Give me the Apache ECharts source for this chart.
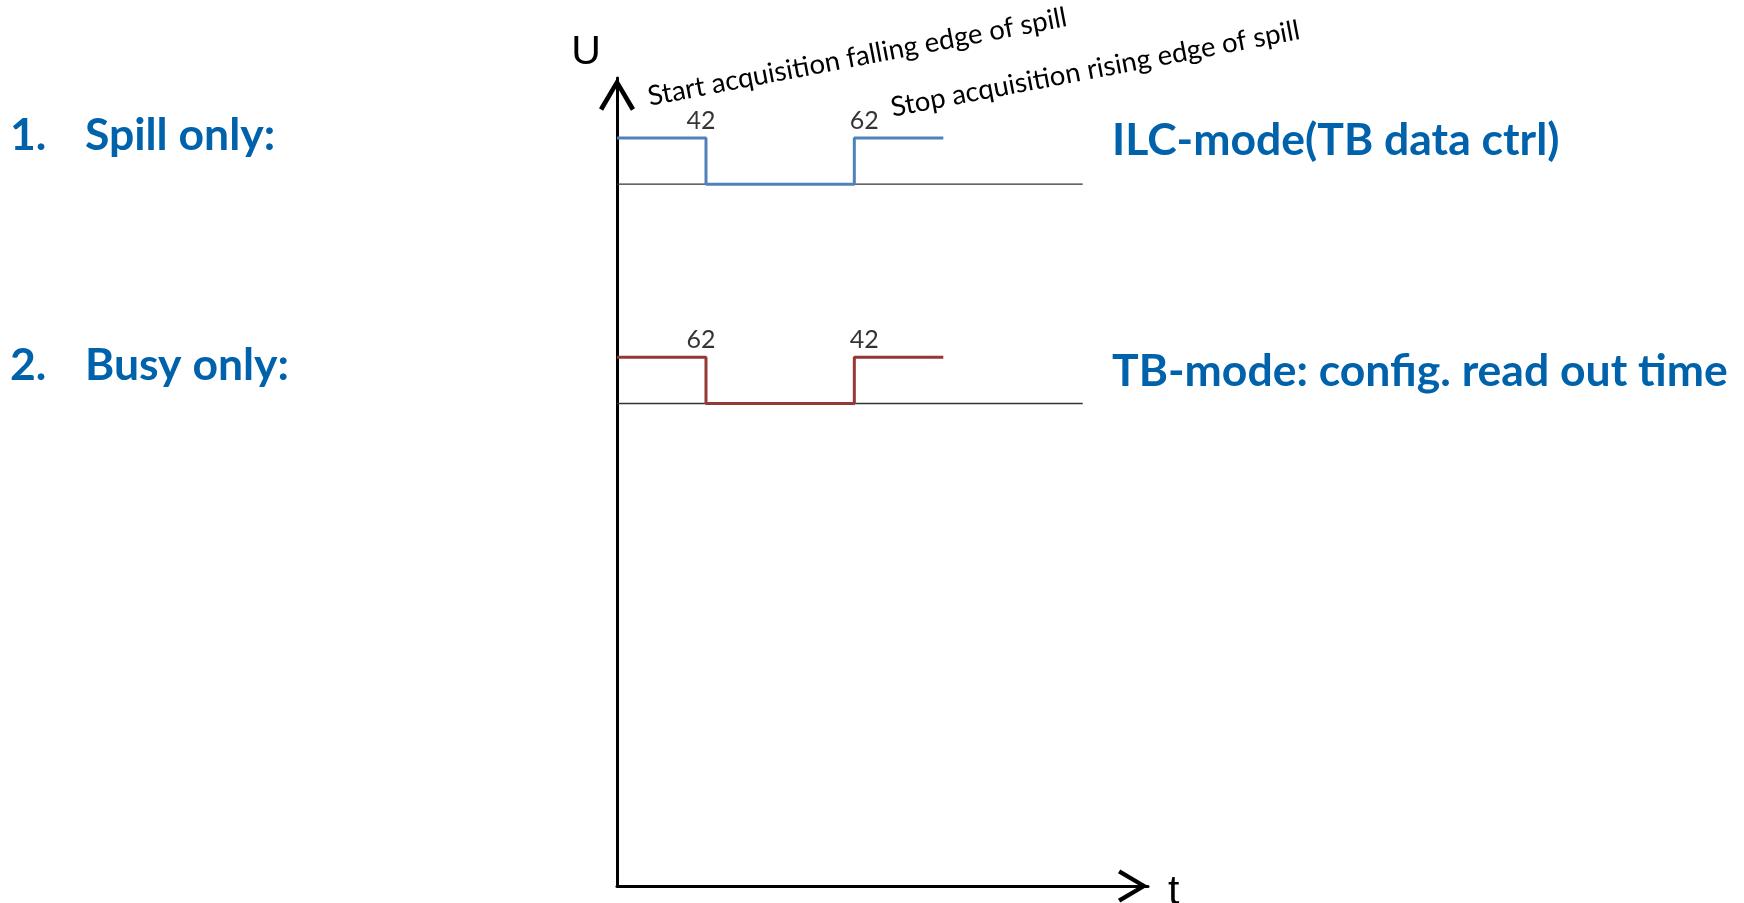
<!DOCTYPE html>
<html><head><meta charset="utf-8">
<script src="https://cdn.jsdelivr.net/npm/echarts@6/dist/echarts.min.js"></script>
<style>html,body{margin:0;padding:0;background:#fff}#c{width:1744px;height:903px}</style>
</head><body><div id="c"></div>
<script>
// ---- data ----
const edgeTimes = [0, 3, 8, 11];
const spillLevels = [16.2, 15.2, 16.2, 16.2];
const busyLevels = [11.45, 10.45, 11.45, 11.45];
const spillBase = 15.2;
const busyBase = 10.45;
const baselineEnd = 15.7;
const labelTimes = [3, 8];
const spillEdgeLabels = ['42', '62'];
const busyEdgeLabels = ['62', '42'];
const xMax = 17.9;
const yMax = 17.5;
const rowNumbers = ['1.', '2.'];
const rowTitles = ['Spill only:', 'Busy only:'];
const modeTitles = ['ILC-mode(TB data ctrl)', 'TB-mode: config. read out time'];
const annotations = ['Start acquisition falling edge of spill', 'Stop acquisition rising edge of spill'];
const axisNames = ['t', 'U'];

// ---- build ----
const zip = (a, b) => a.map((v, i) => [v, b[i]]);
function edgeLabelData(levels, labels) {
  const high = Math.max.apply(null, levels);
  return labelTimes.map((t, i) => {
    const idx = edgeTimes.indexOf(t);
    const falling = levels[idx] < levels[idx - 1];
    return { value: [t, high, labels[i]], label: { offset: [falling ? -5 : 10, -17.5] } };
  });
}
// open chevron whose tip sits at the centre of its bounding box (invisible dot balances it)
const chevron = 'path://M11,-20 L11.01,-20 L11,-19.99 Z M11,0 L22,18.5 L19.5,20 L11,5.4 L2.5,20 L0,18.5 Z';
const blueText = '#0062AB';
const boldFont = { fontFamily: 'Lato', fontWeight: 'bold', fontSize: 44.5, fill: blueText, verticalAlign: 'middle' };
const deg = Math.PI / 180;

const chart = echarts.init(document.getElementById('c'), null, { renderer: 'canvas' });
chart.setOption({
  animation: false,
  grid: { left: 617, right: 596, top: 78, bottom: 17, containLabel: false },
  xAxis: {
    type: 'value', min: 0, max: xMax,
    axisLine: { show: true, symbol: ['none', chevron], symbolSize: [33, 60],
      lineStyle: { color: '#000', width: 3 } },
    axisTick: { show: false }, axisLabel: { show: false }, splitLine: { show: false }
  },
  yAxis: {
    type: 'value', min: 0, max: yMax,
    axisLine: { show: true, symbol: ['none', chevron], symbolSize: [36, 66],
      lineStyle: { color: '#000', width: 3 } },
    axisTick: { show: false }, axisLabel: { show: false }, splitLine: { show: false }
  },
  series: [
    { type: 'line', data: [[0, spillBase], [baselineEnd, spillBase]], symbol: 'none', z: 1,
      lineStyle: { color: '#333', width: 1.3 }, silent: true },
    { type: 'line', data: [[0, busyBase], [baselineEnd, busyBase]], symbol: 'none', z: 1,
      lineStyle: { color: '#333', width: 1.3 }, silent: true },
    { type: 'line', step: 'end', data: zip(edgeTimes, spillLevels), symbol: 'none', z: 3,
      lineStyle: { color: '#4F81BD', width: 3 } },
    { type: 'line', step: 'end', data: zip(edgeTimes, busyLevels), symbol: 'none', z: 3,
      lineStyle: { color: '#953735', width: 3 } },
    { type: 'scatter', symbolSize: 0, z: 4,
      data: edgeLabelData(spillLevels, spillEdgeLabels).concat(edgeLabelData(busyLevels, busyEdgeLabels)),
      label: { show: true, position: 'inside', formatter: p => p.value[2],
        fontFamily: 'Lato', fontSize: 25, color: '#000' } }
  ],
  graphic: [
    { type: 'text', x: 10, y: 136, style: Object.assign({ text: rowNumbers[0] }, boldFont) },
    { type: 'text', x: 85, y: 136, style: Object.assign({ text: rowTitles[0] }, boldFont) },
    { type: 'text', x: 10, y: 366, style: Object.assign({ text: rowNumbers[1] }, boldFont) },
    { type: 'text', x: 85, y: 366, style: Object.assign({ text: rowTitles[1] }, boldFont) },
    { type: 'text', x: 1112, y: 141, style: Object.assign({ text: modeTitles[0] }, boldFont) },
    { type: 'text', x: 1112, y: 372, style: Object.assign({ text: modeTitles[1] }, boldFont) },
    { type: 'text', x: 648, y: 97, rotation: 10.8 * deg,
      style: { text: annotations[0], fontFamily: 'Lato', fontSize: 27.5, fill: '#000', align: 'left', verticalAlign: 'middle' } },
    { type: 'text', x: 891, y: 108, rotation: 10.8 * deg,
      style: { text: annotations[1], fontFamily: 'Lato', fontSize: 27.5, fill: '#000', align: 'left', verticalAlign: 'middle' } },
    { type: 'text', x: 586, y: 53,
      style: { text: axisNames[1], fontFamily: 'Liberation Sans', fontSize: 41, fill: '#000', align: 'center', verticalAlign: 'middle' } },
    { type: 'text', x: 1168, y: 893,
      style: { text: axisNames[0], fontFamily: 'Liberation Sans', fontSize: 41, fill: '#000', align: 'left', verticalAlign: 'middle' } }
  ]
});
</script>
</body></html>
